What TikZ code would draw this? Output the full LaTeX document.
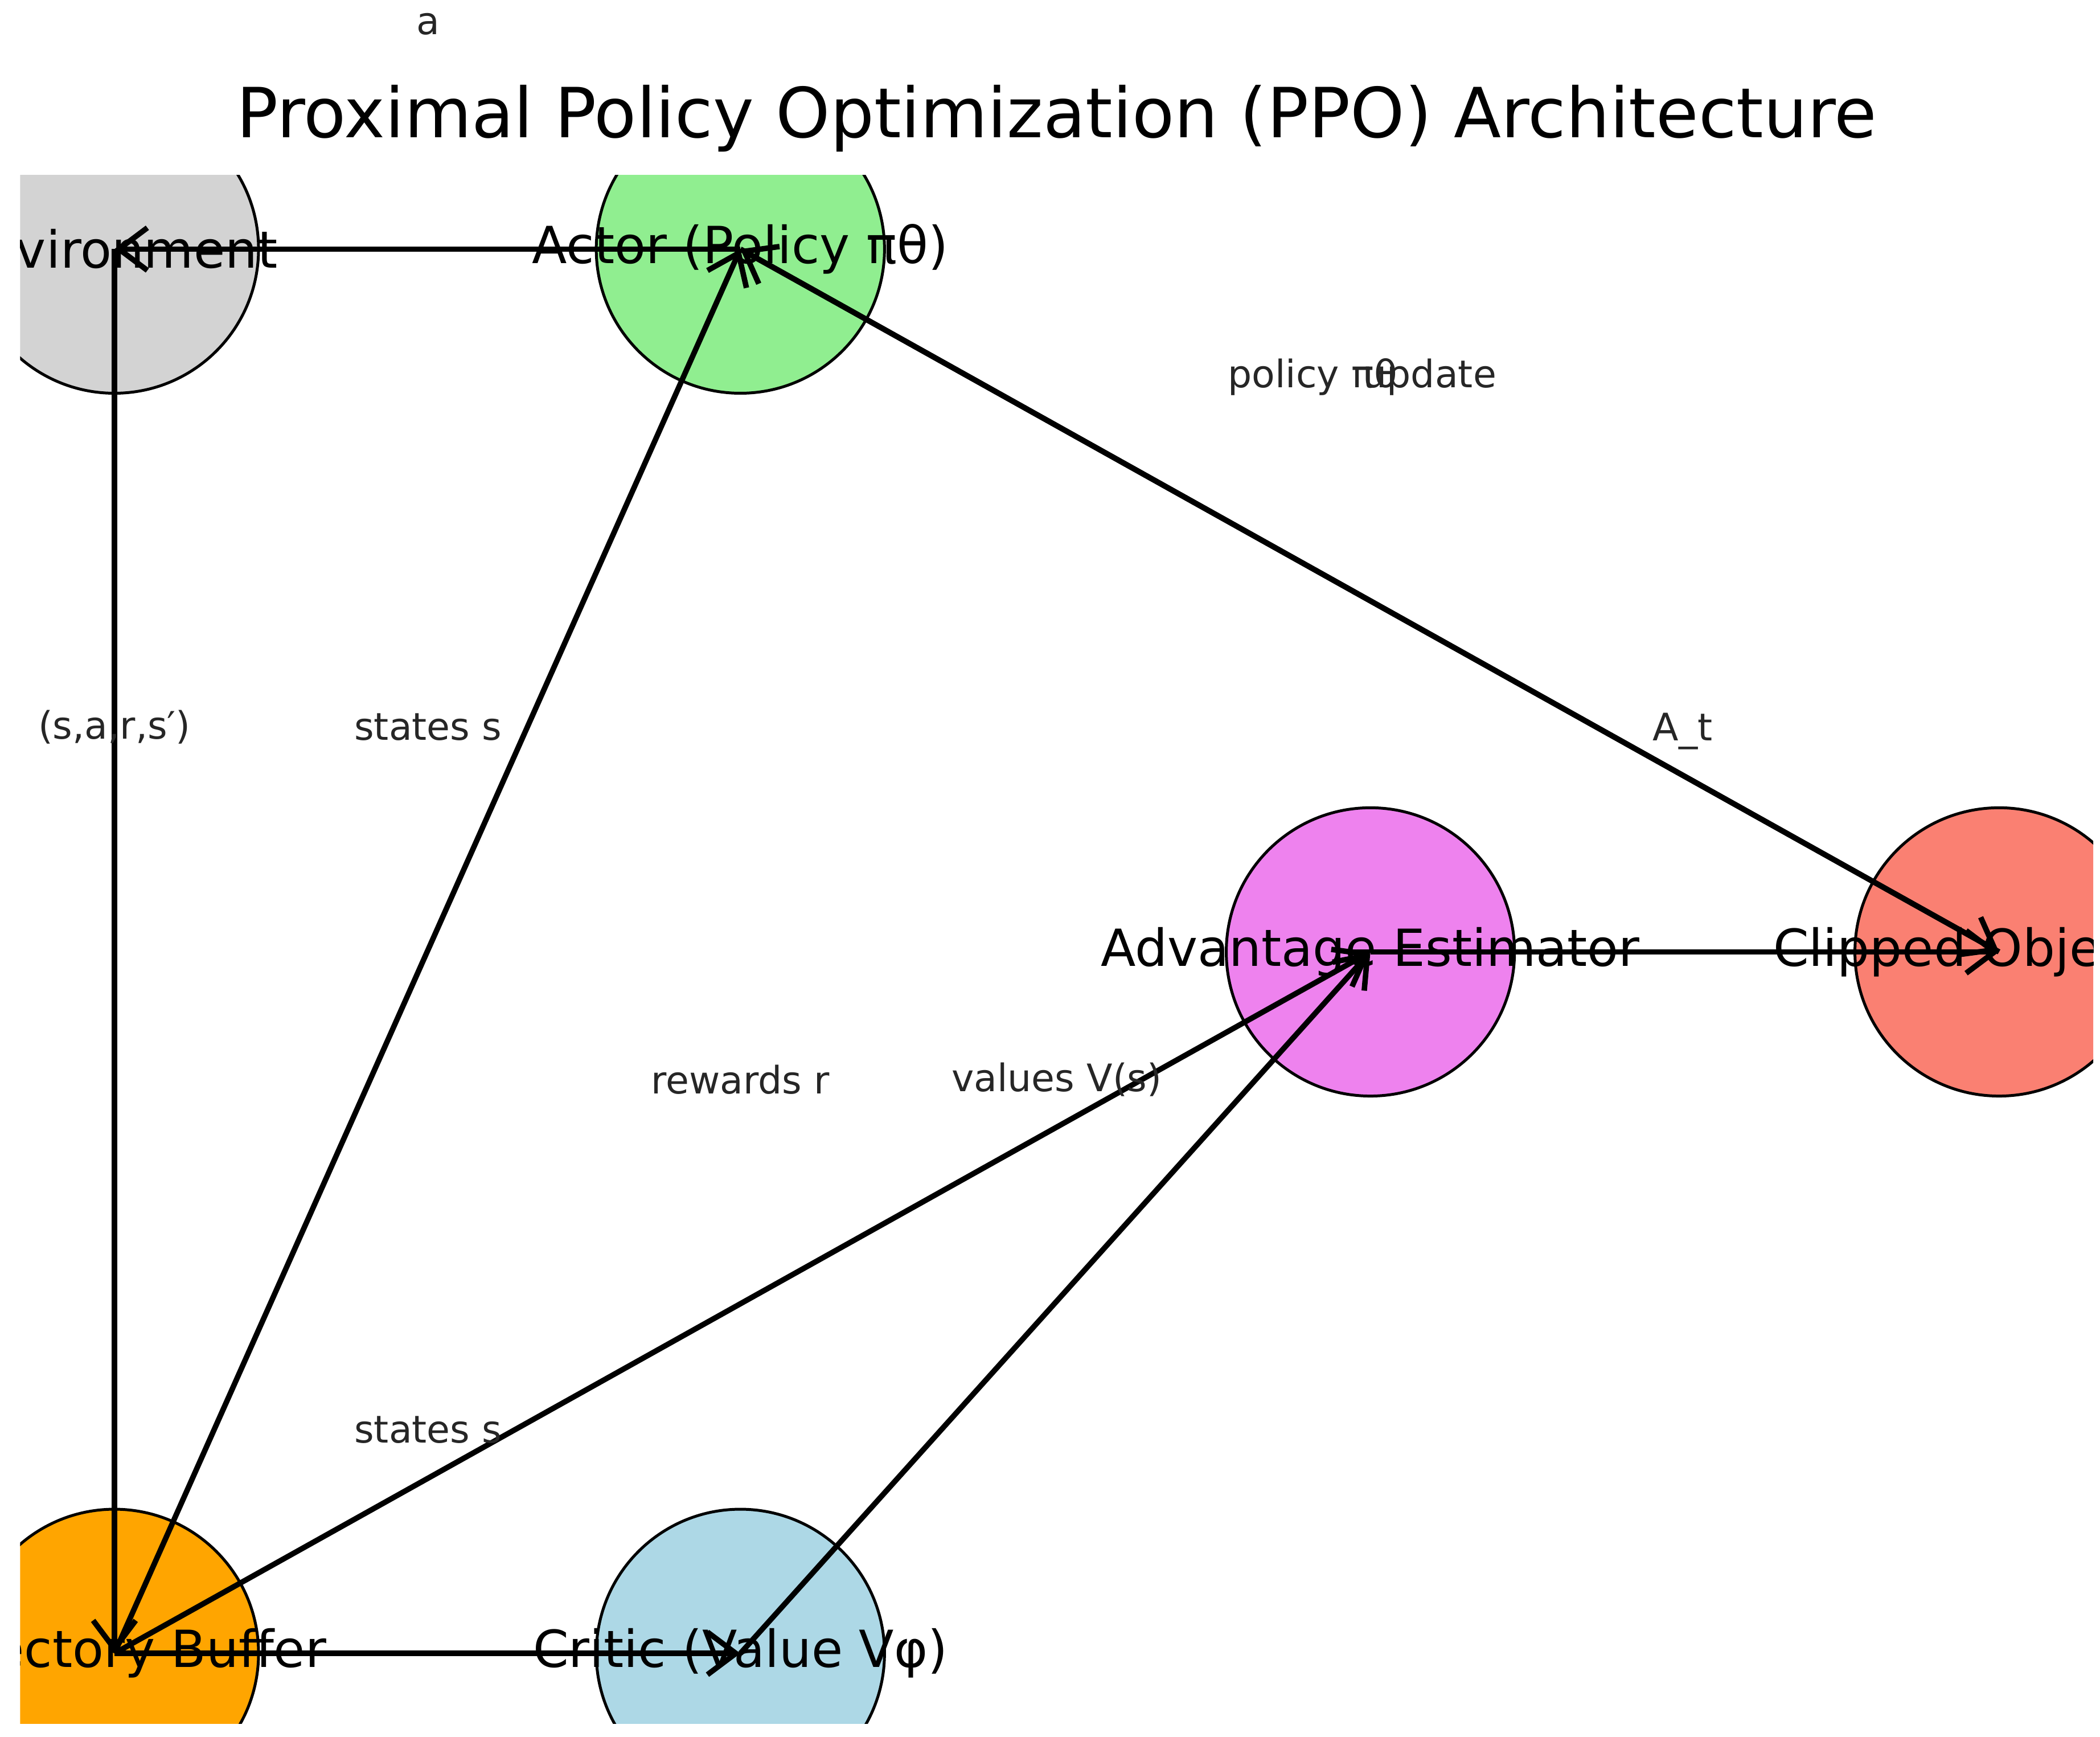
\documentclass[tikz,border=0pt]{standalone}
\usepackage{fontspec}
\setmainfont{DejaVu Sans}
\usetikzlibrary{arrows.meta}
\tikzset{unit/.style={draw,circle,minimum size=2.14cm,inner sep=0pt,line width=0.6pt}}
\tikzset{nlab/.style={font=\fontsize{10.8}{13}\selectfont}}
\tikzset{elab/.style={font=\fontsize{8}{10}\selectfont,text=black!85}}
\tikzset{flow/.style={line width=1.15pt,-{Straight Barb[length=6pt,width=9pt,line width=1.15pt]}}}
\definecolor{envc}{HTML}{D3D3D3}
\definecolor{actc}{HTML}{90EE90}
\definecolor{advc}{HTML}{EE82EE}
\definecolor{clpc}{HTML}{FA8072}
\definecolor{bufc}{HTML}{FFA500}
\definecolor{crtc}{HTML}{ADD8E6}
\begin{document}
\begin{tikzpicture}[x=0.01cm,y=-0.01cm]
    \useasboundingbox (0,0) rectangle (1560,1290);
    \node[font=\fontsize{14.6}{17}\selectfont] (title) at (785,88) {Proximal Policy Optimization (PPO) Architecture};

    \begin{scope}
    \clip (15,130) rectangle (1555,1280);
    \node[unit,fill=envc] (env) at (85,185) {};
    \node[unit,fill=actc] (act) at (550,185) {};
    \node[unit,fill=advc] (adv) at (1018,707) {};
    \node[unit,fill=clpc] (clp) at (1485,707) {};
    \node[unit,fill=bufc] (buf) at (85,1228) {};
    \node[unit,fill=crtc] (crt) at (550,1228) {};

    \draw[flow] (act.center) -- (env.center);
    \draw[flow] (env.center) -- (buf.center);
    \draw[flow] (buf.center) -- (act.center);
    \draw[flow] (buf.center) -- (crt.center);
    \draw[flow] (buf.center) -- (adv.center);
    \draw[flow] (crt.center) -- (adv.center);
    \draw[flow] (adv.center) -- (clp.center);
    \draw[flow] (clp.center) -- (act.center);
    \draw[flow] (act.center) -- (clp.center);

    \node[nlab] at (env) {Environment};
    \node[nlab] at (act) {Actor (Policy πθ)};
    \node[nlab] at (adv) {Advantage Estimator};
    \node[nlab] at (clp) {Clipped Objective};
    \node[nlab] at (buf) {Trajectory Buffer};
    \node[nlab] at (crt) {Critic (Value Vφ)};
    \end{scope}

    % edge labels
    \node[elab] (la) at (318,18) {a};
    \node[elab] (lsars) at (85,540) {(s,a,r,s′)};
    \node[elab] (ls1) at (318,540) {states s};
    \node[elab] (lpol) at (975,280) {policy πθ};
    \node[elab] (lupd) at (1062,280) {update};
    \node[elab] (lat) at (1250,543) {A\_t};
    \node[elab] (lrew) at (550,802) {rewards r};
    \node[elab] (lval) at (785,802) {values V(s)};
    \node[elab] (ls2) at (318,1062) {states s};
\end{tikzpicture}
\end{document}
